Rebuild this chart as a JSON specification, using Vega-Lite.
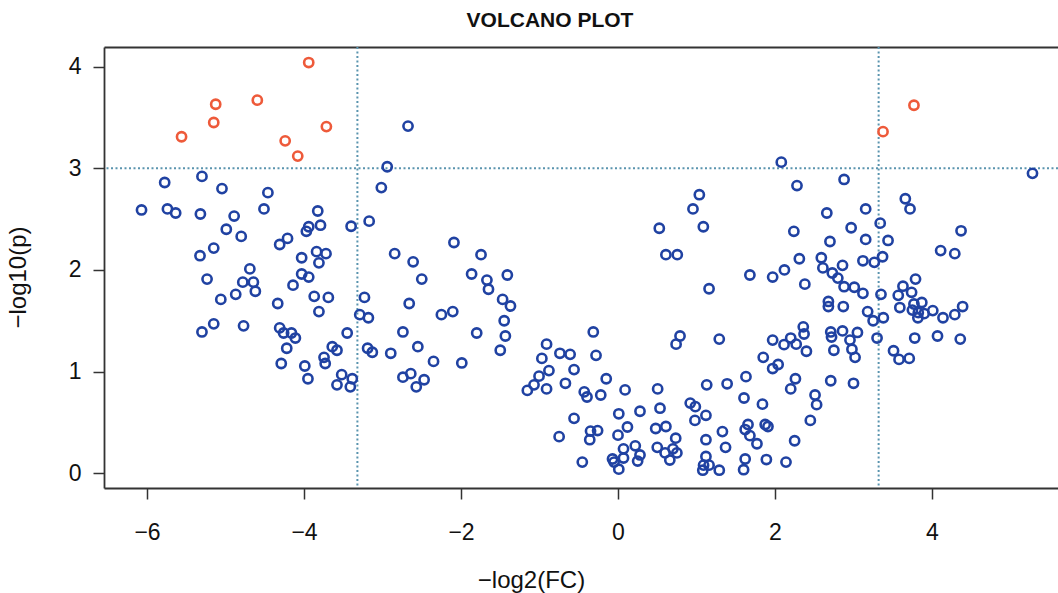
{
  "$schema": "https://vega.github.io/schema/vega-lite/v6.json",
  "width": 954,
  "height": 441,
  "autosize": "none",
  "padding": {"left": 104, "top": 47, "right": 0, "bottom": 105},
  "background": "white",
  "title": {
    "text": "VOLCANO PLOT",
    "font": "Liberation Sans",
    "fontSize": 21,
    "fontWeight": "bold",
    "color": "#111111",
    "anchor": "middle",
    "baseline": "alphabetic",
    "offset": 18,
    "dx": -31,
    "dy": 20
  },
  "config": {
    "view": {"stroke": null},
    "axis": {
      "grid": false,
      "domainColor": "#333333",
      "domainWidth": 1.8,
      "tickColor": "#333333",
      "tickWidth": 1.5,
      "tickSize": 11,
      "labelFont": "Liberation Sans",
      "labelFontSize": 23,
      "labelColor": "#111111",
      "titleFont": "Liberation Sans",
      "titleFontSize": 24,
      "titleFontWeight": "normal",
      "titleColor": "#111111"
    }
  },
  "datasets": {
    "pts": [
      {"fc": -3.94, "p": 4.04, "g": "sig"},
      {"fc": -5.125, "p": 3.63, "g": "sig"},
      {"fc": -4.595, "p": 3.67, "g": "sig"},
      {"fc": -5.15, "p": 3.45, "g": "sig"},
      {"fc": -5.56, "p": 3.31, "g": "sig"},
      {"fc": -3.715, "p": 3.41, "g": "sig"},
      {"fc": -4.24, "p": 3.27, "g": "sig"},
      {"fc": -4.08, "p": 3.12, "g": "sig"},
      {"fc": 3.77, "p": 3.62, "g": "sig"},
      {"fc": 3.376, "p": 3.36, "g": "sig"},
      {"fc": -5.775, "p": 2.86, "g": "ns"},
      {"fc": -5.3, "p": 2.92, "g": "ns"},
      {"fc": -5.045, "p": 2.8, "g": "ns"},
      {"fc": -4.46, "p": 2.76, "g": "ns"},
      {"fc": -6.07, "p": 2.59, "g": "ns"},
      {"fc": -5.74, "p": 2.6, "g": "ns"},
      {"fc": -5.635, "p": 2.56, "g": "ns"},
      {"fc": -5.32, "p": 2.55, "g": "ns"},
      {"fc": -4.89, "p": 2.53, "g": "ns"},
      {"fc": -4.51, "p": 2.6, "g": "ns"},
      {"fc": -3.825, "p": 2.58, "g": "ns"},
      {"fc": -4.99, "p": 2.4, "g": "ns"},
      {"fc": -4.8, "p": 2.33, "g": "ns"},
      {"fc": -3.94, "p": 2.425, "g": "ns"},
      {"fc": -3.97, "p": 2.38, "g": "ns"},
      {"fc": -3.79, "p": 2.44, "g": "ns"},
      {"fc": -3.4, "p": 2.43, "g": "ns"},
      {"fc": -4.21, "p": 2.31, "g": "ns"},
      {"fc": -4.31, "p": 2.25, "g": "ns"},
      {"fc": -5.15, "p": 2.215, "g": "ns"},
      {"fc": -5.325, "p": 2.14, "g": "ns"},
      {"fc": -3.84, "p": 2.18, "g": "ns"},
      {"fc": -3.72, "p": 2.16, "g": "ns"},
      {"fc": -4.03, "p": 2.12, "g": "ns"},
      {"fc": -3.81, "p": 2.07, "g": "ns"},
      {"fc": -4.69, "p": 2.01, "g": "ns"},
      {"fc": -4.03, "p": 1.96, "g": "ns"},
      {"fc": -5.235, "p": 1.91, "g": "ns"},
      {"fc": -4.78, "p": 1.88, "g": "ns"},
      {"fc": -4.645, "p": 1.88, "g": "ns"},
      {"fc": -4.62, "p": 1.79, "g": "ns"},
      {"fc": -3.94, "p": 1.93, "g": "ns"},
      {"fc": -4.14, "p": 1.85, "g": "ns"},
      {"fc": -5.06, "p": 1.71, "g": "ns"},
      {"fc": -4.87, "p": 1.76, "g": "ns"},
      {"fc": -4.335, "p": 1.67, "g": "ns"},
      {"fc": -3.87, "p": 1.74, "g": "ns"},
      {"fc": -3.69, "p": 1.73, "g": "ns"},
      {"fc": -3.81, "p": 1.59, "g": "ns"},
      {"fc": -5.3, "p": 1.39, "g": "ns"},
      {"fc": -5.15, "p": 1.47, "g": "ns"},
      {"fc": -4.77, "p": 1.45, "g": "ns"},
      {"fc": -4.31, "p": 1.43, "g": "ns"},
      {"fc": -4.26, "p": 1.38, "g": "ns"},
      {"fc": -4.16, "p": 1.38, "g": "ns"},
      {"fc": -4.11, "p": 1.33, "g": "ns"},
      {"fc": -4.22, "p": 1.23, "g": "ns"},
      {"fc": -4.29, "p": 1.08, "g": "ns"},
      {"fc": -3.45, "p": 1.38, "g": "ns"},
      {"fc": -3.64, "p": 1.245, "g": "ns"},
      {"fc": -3.58, "p": 1.21, "g": "ns"},
      {"fc": -3.745, "p": 1.14, "g": "ns"},
      {"fc": -3.73, "p": 1.08, "g": "ns"},
      {"fc": -3.99, "p": 1.055, "g": "ns"},
      {"fc": -3.95, "p": 0.93, "g": "ns"},
      {"fc": -3.52, "p": 0.97, "g": "ns"},
      {"fc": -3.385, "p": 0.93, "g": "ns"},
      {"fc": -3.58, "p": 0.87, "g": "ns"},
      {"fc": -3.41, "p": 0.85, "g": "ns"},
      {"fc": -2.675, "p": 3.415, "g": "ns"},
      {"fc": -2.94, "p": 3.015, "g": "ns"},
      {"fc": -3.015, "p": 2.81, "g": "ns"},
      {"fc": -3.17, "p": 2.48, "g": "ns"},
      {"fc": -2.09, "p": 2.27, "g": "ns"},
      {"fc": -2.845, "p": 2.16, "g": "ns"},
      {"fc": -2.61, "p": 2.08, "g": "ns"},
      {"fc": -1.745, "p": 2.15, "g": "ns"},
      {"fc": -2.5, "p": 1.91, "g": "ns"},
      {"fc": -1.865, "p": 1.96, "g": "ns"},
      {"fc": -1.67, "p": 1.9, "g": "ns"},
      {"fc": -1.65, "p": 1.81, "g": "ns"},
      {"fc": -1.41, "p": 1.95, "g": "ns"},
      {"fc": -3.23, "p": 1.73, "g": "ns"},
      {"fc": -3.29, "p": 1.56, "g": "ns"},
      {"fc": -3.18, "p": 1.53, "g": "ns"},
      {"fc": -2.66, "p": 1.67, "g": "ns"},
      {"fc": -2.25, "p": 1.56, "g": "ns"},
      {"fc": -2.105, "p": 1.59, "g": "ns"},
      {"fc": -1.47, "p": 1.71, "g": "ns"},
      {"fc": -1.37, "p": 1.645, "g": "ns"},
      {"fc": -1.45, "p": 1.5, "g": "ns"},
      {"fc": -1.435, "p": 1.35, "g": "ns"},
      {"fc": -1.5, "p": 1.21, "g": "ns"},
      {"fc": -1.8, "p": 1.38, "g": "ns"},
      {"fc": -2.74, "p": 1.39, "g": "ns"},
      {"fc": -2.55, "p": 1.245, "g": "ns"},
      {"fc": -3.19, "p": 1.23, "g": "ns"},
      {"fc": -3.13, "p": 1.19, "g": "ns"},
      {"fc": -2.895, "p": 1.18, "g": "ns"},
      {"fc": -2.35, "p": 1.1, "g": "ns"},
      {"fc": -1.99, "p": 1.085, "g": "ns"},
      {"fc": -2.74, "p": 0.945, "g": "ns"},
      {"fc": -2.64, "p": 0.98, "g": "ns"},
      {"fc": -2.47, "p": 0.92, "g": "ns"},
      {"fc": -2.57, "p": 0.85, "g": "ns"},
      {"fc": -0.91, "p": 1.27, "g": "ns"},
      {"fc": -0.97, "p": 1.13, "g": "ns"},
      {"fc": -0.88, "p": 1.01, "g": "ns"},
      {"fc": -1.006, "p": 0.955, "g": "ns"},
      {"fc": -1.07, "p": 0.87, "g": "ns"},
      {"fc": -1.155, "p": 0.815, "g": "ns"},
      {"fc": -0.91, "p": 0.83, "g": "ns"},
      {"fc": -0.74, "p": 1.18, "g": "ns"},
      {"fc": -0.61, "p": 1.17, "g": "ns"},
      {"fc": -0.56, "p": 1.02, "g": "ns"},
      {"fc": -0.67, "p": 0.885, "g": "ns"},
      {"fc": -0.315, "p": 1.39, "g": "ns"},
      {"fc": -0.28, "p": 1.16, "g": "ns"},
      {"fc": -0.43, "p": 0.8, "g": "ns"},
      {"fc": -0.395, "p": 0.75, "g": "ns"},
      {"fc": -0.56, "p": 0.54, "g": "ns"},
      {"fc": -0.75, "p": 0.36, "g": "ns"},
      {"fc": -0.35, "p": 0.415, "g": "ns"},
      {"fc": -0.26, "p": 0.42, "g": "ns"},
      {"fc": -0.36, "p": 0.33, "g": "ns"},
      {"fc": -0.455, "p": 0.11, "g": "ns"},
      {"fc": 2.08, "p": 3.06, "g": "ns"},
      {"fc": 2.28, "p": 2.83, "g": "ns"},
      {"fc": 2.88, "p": 2.89, "g": "ns"},
      {"fc": 1.036, "p": 2.74, "g": "ns"},
      {"fc": 0.955, "p": 2.6, "g": "ns"},
      {"fc": 1.087, "p": 2.425, "g": "ns"},
      {"fc": 0.526, "p": 2.41, "g": "ns"},
      {"fc": 0.61, "p": 2.15, "g": "ns"},
      {"fc": 0.755, "p": 2.15, "g": "ns"},
      {"fc": 2.66, "p": 2.56, "g": "ns"},
      {"fc": 2.24, "p": 2.38, "g": "ns"},
      {"fc": 2.7, "p": 2.28, "g": "ns"},
      {"fc": 2.31, "p": 2.11, "g": "ns"},
      {"fc": 2.59, "p": 2.12, "g": "ns"},
      {"fc": 2.61, "p": 2.02, "g": "ns"},
      {"fc": 2.12, "p": 2.0, "g": "ns"},
      {"fc": 1.68, "p": 1.95, "g": "ns"},
      {"fc": 1.97, "p": 1.93, "g": "ns"},
      {"fc": 2.38, "p": 1.86, "g": "ns"},
      {"fc": 2.73, "p": 1.97, "g": "ns"},
      {"fc": 2.8, "p": 1.92, "g": "ns"},
      {"fc": 1.16, "p": 1.815, "g": "ns"},
      {"fc": 2.68, "p": 1.69, "g": "ns"},
      {"fc": 2.68, "p": 1.64, "g": "ns"},
      {"fc": 0.79, "p": 1.35, "g": "ns"},
      {"fc": 0.74, "p": 1.27, "g": "ns"},
      {"fc": 1.29, "p": 1.32, "g": "ns"},
      {"fc": 1.97, "p": 1.31, "g": "ns"},
      {"fc": 2.115, "p": 1.265, "g": "ns"},
      {"fc": 2.2, "p": 1.33, "g": "ns"},
      {"fc": 2.27, "p": 1.27, "g": "ns"},
      {"fc": 2.36, "p": 1.44, "g": "ns"},
      {"fc": 2.37, "p": 1.37, "g": "ns"},
      {"fc": 2.4, "p": 1.2, "g": "ns"},
      {"fc": 2.71, "p": 1.39, "g": "ns"},
      {"fc": 2.72, "p": 1.34, "g": "ns"},
      {"fc": 2.75, "p": 1.21, "g": "ns"},
      {"fc": 1.85, "p": 1.14, "g": "ns"},
      {"fc": 1.97, "p": 1.03, "g": "ns"},
      {"fc": 2.04, "p": 1.07, "g": "ns"},
      {"fc": 1.63, "p": 0.95, "g": "ns"},
      {"fc": 2.26, "p": 0.93, "g": "ns"},
      {"fc": 2.2, "p": 0.83, "g": "ns"},
      {"fc": 2.71, "p": 0.91, "g": "ns"},
      {"fc": 2.51, "p": 0.77, "g": "ns"},
      {"fc": 2.53, "p": 0.675, "g": "ns"},
      {"fc": 2.45, "p": 0.52, "g": "ns"},
      {"fc": 2.25, "p": 0.32, "g": "ns"},
      {"fc": 2.14, "p": 0.11, "g": "ns"},
      {"fc": 1.89, "p": 0.135, "g": "ns"},
      {"fc": 1.13, "p": 0.87, "g": "ns"},
      {"fc": 1.39, "p": 0.88, "g": "ns"},
      {"fc": 1.605, "p": 0.74, "g": "ns"},
      {"fc": 1.84, "p": 0.68, "g": "ns"},
      {"fc": 0.92, "p": 0.69, "g": "ns"},
      {"fc": 0.985, "p": 0.655, "g": "ns"},
      {"fc": 1.12, "p": 0.57, "g": "ns"},
      {"fc": 0.98, "p": 0.52, "g": "ns"},
      {"fc": 1.656, "p": 0.48, "g": "ns"},
      {"fc": 1.62, "p": 0.43, "g": "ns"},
      {"fc": 1.875, "p": 0.48, "g": "ns"},
      {"fc": 1.91, "p": 0.46, "g": "ns"},
      {"fc": 1.68, "p": 0.37, "g": "ns"},
      {"fc": 1.77, "p": 0.29, "g": "ns"},
      {"fc": 1.33, "p": 0.41, "g": "ns"},
      {"fc": 1.37, "p": 0.255, "g": "ns"},
      {"fc": 1.12, "p": 0.33, "g": "ns"},
      {"fc": 1.62, "p": 0.14, "g": "ns"},
      {"fc": 1.6, "p": 0.035, "g": "ns"},
      {"fc": 1.12, "p": 0.165, "g": "ns"},
      {"fc": 1.09, "p": 0.08, "g": "ns"},
      {"fc": 1.08, "p": 0.03, "g": "ns"},
      {"fc": 1.16, "p": 0.08, "g": "ns"},
      {"fc": 1.29, "p": 0.03, "g": "ns"},
      {"fc": 0.505, "p": 0.83, "g": "ns"},
      {"fc": 0.535, "p": 0.64, "g": "ns"},
      {"fc": 0.28, "p": 0.61, "g": "ns"},
      {"fc": 0.01, "p": 0.585, "g": "ns"},
      {"fc": 0.09, "p": 0.82, "g": "ns"},
      {"fc": -0.15, "p": 0.93, "g": "ns"},
      {"fc": -0.22, "p": 0.77, "g": "ns"},
      {"fc": 0.12, "p": 0.455, "g": "ns"},
      {"fc": 0.0, "p": 0.375, "g": "ns"},
      {"fc": 0.48, "p": 0.44, "g": "ns"},
      {"fc": 0.61, "p": 0.46, "g": "ns"},
      {"fc": 0.735, "p": 0.345, "g": "ns"},
      {"fc": 0.5, "p": 0.255, "g": "ns"},
      {"fc": 0.6, "p": 0.2, "g": "ns"},
      {"fc": 0.7, "p": 0.24, "g": "ns"},
      {"fc": 0.75, "p": 0.2, "g": "ns"},
      {"fc": 0.66, "p": 0.13, "g": "ns"},
      {"fc": 0.07, "p": 0.24, "g": "ns"},
      {"fc": 0.22, "p": 0.27, "g": "ns"},
      {"fc": 0.28, "p": 0.18, "g": "ns"},
      {"fc": 0.25, "p": 0.12, "g": "ns"},
      {"fc": -0.07, "p": 0.14, "g": "ns"},
      {"fc": -0.05, "p": 0.11, "g": "ns"},
      {"fc": 0.07, "p": 0.15, "g": "ns"},
      {"fc": 0.01, "p": 0.04, "g": "ns"},
      {"fc": 5.28, "p": 2.95, "g": "ns"},
      {"fc": 3.66, "p": 2.7, "g": "ns"},
      {"fc": 3.72, "p": 2.6, "g": "ns"},
      {"fc": 3.155, "p": 2.6, "g": "ns"},
      {"fc": 3.34, "p": 2.46, "g": "ns"},
      {"fc": 2.97, "p": 2.415, "g": "ns"},
      {"fc": 4.37, "p": 2.385, "g": "ns"},
      {"fc": 3.155, "p": 2.3, "g": "ns"},
      {"fc": 3.44, "p": 2.29, "g": "ns"},
      {"fc": 4.11, "p": 2.19, "g": "ns"},
      {"fc": 4.29, "p": 2.16, "g": "ns"},
      {"fc": 3.37, "p": 2.13, "g": "ns"},
      {"fc": 3.12, "p": 2.09, "g": "ns"},
      {"fc": 3.265, "p": 2.075, "g": "ns"},
      {"fc": 2.86, "p": 2.045, "g": "ns"},
      {"fc": 2.88, "p": 1.835, "g": "ns"},
      {"fc": 3.01, "p": 1.83, "g": "ns"},
      {"fc": 3.12, "p": 1.77, "g": "ns"},
      {"fc": 3.35, "p": 1.76, "g": "ns"},
      {"fc": 3.79, "p": 1.91, "g": "ns"},
      {"fc": 3.63, "p": 1.84, "g": "ns"},
      {"fc": 3.57, "p": 1.75, "g": "ns"},
      {"fc": 3.74, "p": 1.78, "g": "ns"},
      {"fc": 2.87, "p": 1.64, "g": "ns"},
      {"fc": 3.18, "p": 1.59, "g": "ns"},
      {"fc": 3.25, "p": 1.5, "g": "ns"},
      {"fc": 3.38, "p": 1.53, "g": "ns"},
      {"fc": 3.59, "p": 1.63, "g": "ns"},
      {"fc": 3.77, "p": 1.665, "g": "ns"},
      {"fc": 3.87, "p": 1.68, "g": "ns"},
      {"fc": 3.75, "p": 1.605, "g": "ns"},
      {"fc": 3.825, "p": 1.58, "g": "ns"},
      {"fc": 3.82, "p": 1.53, "g": "ns"},
      {"fc": 3.9, "p": 1.57, "g": "ns"},
      {"fc": 4.01, "p": 1.6, "g": "ns"},
      {"fc": 4.14, "p": 1.53, "g": "ns"},
      {"fc": 4.29, "p": 1.56, "g": "ns"},
      {"fc": 4.39, "p": 1.64, "g": "ns"},
      {"fc": 2.86, "p": 1.4, "g": "ns"},
      {"fc": 3.05, "p": 1.385, "g": "ns"},
      {"fc": 2.955, "p": 1.31, "g": "ns"},
      {"fc": 2.98, "p": 1.22, "g": "ns"},
      {"fc": 3.02, "p": 1.14, "g": "ns"},
      {"fc": 3.3, "p": 1.33, "g": "ns"},
      {"fc": 3.51, "p": 1.205, "g": "ns"},
      {"fc": 3.58, "p": 1.12, "g": "ns"},
      {"fc": 3.71, "p": 1.13, "g": "ns"},
      {"fc": 3.78, "p": 1.33, "g": "ns"},
      {"fc": 4.07, "p": 1.35, "g": "ns"},
      {"fc": 4.36, "p": 1.32, "g": "ns"},
      {"fc": 3.0, "p": 0.885, "g": "ns"}
    ]
  },
  "layer": [
    {
      "data": {"values": [{"v": -3.32}, {"v": 3.32}]},
      "mark": {"type": "rule", "color": "#5a94ae", "strokeWidth": 2, "strokeDash": [2, 2.5]},
      "encoding": {
        "x": {
          "field": "v",
          "type": "quantitative",
          "scale": {"domain": [-6.548, 5.605], "nice": false, "zero": false},
          "axis": {"orient": "top", "labels": false, "ticks": false, "domain": true, "title": null}
        }
      }
    },
    {
      "data": {"values": [{"h": 3}]},
      "mark": {"type": "rule", "color": "#5a94ae", "strokeWidth": 2, "strokeDash": [2, 2.5]},
      "encoding": {
        "y": {
          "field": "h",
          "type": "quantitative",
          "scale": {"domain": [-0.145, 4.193], "nice": false, "zero": false},
          "axis": {"values": [0, 1, 2, 3, 4], "title": "−log10(p)", "labelPadding": 12, "labelAlign": "right", "titleX": -79, "titleY": 230, "titleBaseline": "alphabetic", "titleAngle": -90, "titleAlign": "center"}
        }
      }
    },
    {
      "data": {"name": "pts"},
      "mark": {"type": "point", "filled": false, "strokeWidth": 2.6, "size": 85, "opacity": 1},
      "encoding": {
        "x": {
          "field": "fc",
          "type": "quantitative",
          "scale": {"domain": [-6.548, 5.605], "nice": false, "zero": false},
          "axis": {"orient": "bottom", "values": [-6, -4, -2, 0, 2, 4], "title": "−log2(FC)", "labelPadding": 22, "titleX": 427, "titleY": 99, "titleBaseline": "alphabetic", "titleAlign": "center"}
        },
        "y": {
          "field": "p",
          "type": "quantitative",
          "scale": {"domain": [-0.145, 4.193], "nice": false, "zero": false},
          "axis": {"values": [0, 1, 2, 3, 4], "title": "−log10(p)", "labelPadding": 12, "labelAlign": "right", "titleX": -79, "titleY": 230, "titleBaseline": "alphabetic", "titleAngle": -90, "titleAlign": "center"}
        },
        "color": {
          "field": "g",
          "type": "nominal",
          "scale": {"domain": ["sig", "ns"], "range": ["#ee5a3a", "#2042a2"]},
          "legend": null
        }
      }
    }
  ],
  "resolve": {"axis": {"x": "independent"}}
}
